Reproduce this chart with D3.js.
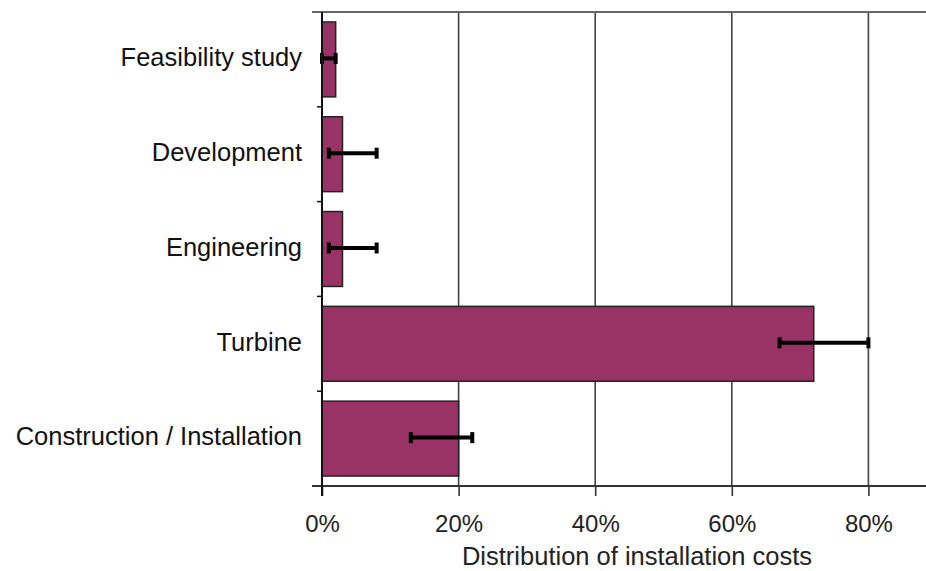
<!DOCTYPE html>
<html><head><meta charset="utf-8">
<script src="https://cdn.jsdelivr.net/npm/d3@7"></script>
<style>body{margin:0;background:#fff}svg{display:block}</style>
</head><body>
<svg id="c" width="926" height="571"></svg>
<script>
const categories = ["Feasibility study","Development","Engineering","Turbine","Construction / Installation"];
const values = [2, 3, 3, 72, 20];
const errLow = [0, 1, 1, 67, 13];
const errHigh = [2, 8, 8, 80, 22];
const xTicks = [0, 20, 40, 60, 80];
const xTitle = "Distribution of installation costs";

(function () {
const svg = d3.select("#c");
const font = "Liberation Sans, Arial, sans-serif";
const mLeft = 322, mRight = 1005, mTop = 12, mBottom = 486;
const x = d3.scaleLinear().domain([0, 100]).range([mLeft, mRight]);
const y = d3.scaleBand().domain(categories).range([mTop, mBottom]).paddingInner(0.21).paddingOuter(0.105);
const yb = d3.scaleBand().domain(categories).range([mTop, mBottom]);

// gridlines
svg.append("g").selectAll("line").data(xTicks.filter(d => d > 0)).join("line")
  .attr("x1", d => x(d)).attr("x2", d => x(d)).attr("y1", mTop).attr("y2", mBottom)
  .attr("stroke", "#444").attr("stroke-width", 1.6);
// top border
svg.append("line").attr("x1", 312).attr("x2", 926).attr("y1", mTop).attr("y2", mTop)
  .attr("stroke", "#666").attr("stroke-width", 2);

// bars
svg.append("g").selectAll("rect").data(categories).join("rect")
  .attr("x", x(0)).attr("y", d => y(d))
  .attr("width", (d, i) => x(values[i]) - x(0)).attr("height", y.bandwidth())
  .attr("fill", "#993366").attr("stroke", "#222").attr("stroke-width", 1.5);

// error bars
const eg = svg.append("g").attr("stroke", "#000");
categories.forEach((c, i) => {
  const cy = y(c) + y.bandwidth() / 2 - 1;
  eg.append("line").attr("x1", x(errLow[i])).attr("x2", x(errHigh[i])).attr("y1", cy).attr("y2", cy).attr("stroke-width", 4);
  [errLow[i], errHigh[i]].forEach(v => {
    eg.append("line").attr("x1", x(v)).attr("x2", x(v)).attr("y1", cy - 5.5).attr("y2", cy + 5.5).attr("stroke-width", 4);
  });
});

// x axis
const xAxis = d3.axisBottom(x).tickValues(xTicks).tickFormat(d => d + "%").tickSize(10).tickPadding(19);
const xa = svg.append("g").attr("transform", `translate(0,${mBottom})`).call(xAxis);
xa.select(".domain").remove();
xa.append("line").attr("x1", 312).attr("x2", 926).attr("y1", 0).attr("y2", 0).attr("stroke", "#333").attr("stroke-width", 2);
xa.selectAll(".tick line").attr("stroke", "#333").attr("stroke-width", 1.6);
xa.selectAll(".tick text").attr("font-family", font).attr("font-size", 24).attr("fill", "#222");

// y axis
svg.append("line").attr("x1", mLeft).attr("x2", mLeft).attr("y1", mTop).attr("y2", mBottom + 10)
  .attr("stroke", "#111").attr("stroke-width", 2);
const yAxis = d3.axisLeft(yb).tickSize(0).tickPadding(20);
const ya = svg.append("g").attr("transform", `translate(${mLeft},0)`).call(yAxis);
ya.select(".domain").remove();
ya.selectAll(".tick text").attr("font-family", font).attr("font-size", 25.5).attr("fill", "#111").attr("dy", "0.27em");
// category boundary ticks
svg.append("g").selectAll("line").data(categories.slice(1)).join("line")
  .attr("x1", mLeft - 5).attr("x2", mLeft).attr("y1", d => yb(d)).attr("y2", d => yb(d))
  .attr("stroke", "#111").attr("stroke-width", 1.5);

svg.append("text").attr("x", 637).attr("y", 565).attr("text-anchor", "middle")
  .attr("font-family", font).attr("font-size", 25.5).attr("fill", "#222")
  .text(xTitle);
})();
</script>
</body></html>
